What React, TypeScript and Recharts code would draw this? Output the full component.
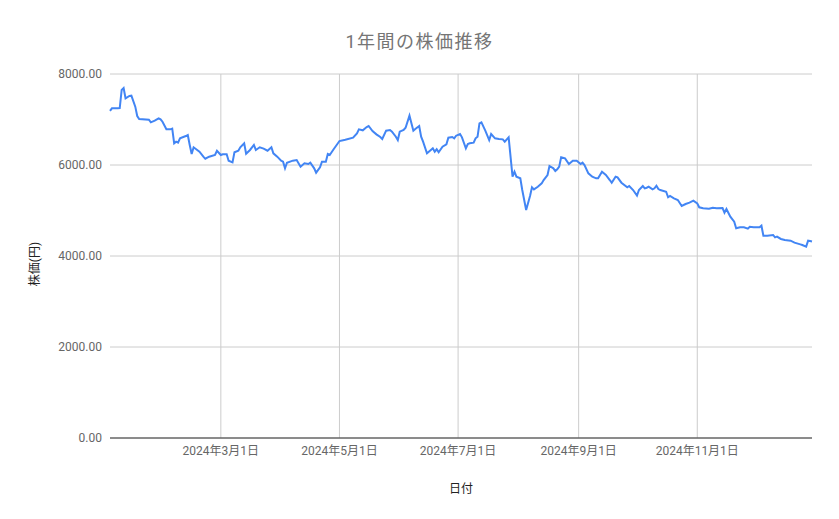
import React from "react";
import { LineChart, Line, XAxis, YAxis, CartesianGrid, ReferenceLine } from "recharts";

// closing prices
const tradeDates = [
  "2024-01-04", "2024-01-05", "2024-01-08", "2024-01-09", "2024-01-10", "2024-01-11", "2024-01-12",
  "2024-01-14", "2024-01-15", "2024-01-17", "2024-01-18", "2024-01-19", "2024-01-24", "2024-01-25",
  "2024-01-27", "2024-01-29", "2024-01-30", "2024-01-31", "2024-02-02", "2024-02-04", "2024-02-05",
  "2024-02-06", "2024-02-07", "2024-02-08", "2024-02-09", "2024-02-12", "2024-02-13", "2024-02-14",
  "2024-02-15", "2024-02-16", "2024-02-19", "2024-02-21", "2024-02-22", "2024-02-24", "2024-02-27",
  "2024-02-28", "2024-03-01", "2024-03-02", "2024-03-04", "2024-03-05", "2024-03-07", "2024-03-08",
  "2024-03-10", "2024-03-11", "2024-03-13", "2024-03-14", "2024-03-16", "2024-03-18", "2024-03-19",
  "2024-03-21", "2024-03-23", "2024-03-25", "2024-03-27", "2024-03-28", "2024-03-30", "2024-04-01",
  "2024-04-02", "2024-04-03", "2024-04-04", "2024-04-07", "2024-04-09", "2024-04-11", "2024-04-13",
  "2024-04-15", "2024-04-16", "2024-04-18", "2024-04-19", "2024-04-21", "2024-04-22", "2024-04-24",
  "2024-04-25", "2024-04-26", "2024-04-28", "2024-05-01", "2024-05-04", "2024-05-08", "2024-05-10",
  "2024-05-11", "2024-05-13", "2024-05-15", "2024-05-16", "2024-05-18", "2024-05-20", "2024-05-22",
  "2024-05-23", "2024-05-25", "2024-05-27", "2024-05-28", "2024-05-30", "2024-05-31", "2024-06-01",
  "2024-06-03", "2024-06-04", "2024-06-06", "2024-06-08", "2024-06-09", "2024-06-11", "2024-06-12",
  "2024-06-13", "2024-06-15", "2024-06-17", "2024-06-18", "2024-06-19", "2024-06-20", "2024-06-21",
  "2024-06-23", "2024-06-25", "2024-06-26", "2024-06-28", "2024-06-29", "2024-06-30", "2024-07-02",
  "2024-07-03", "2024-07-05", "2024-07-06", "2024-07-07", "2024-07-09", "2024-07-10", "2024-07-11",
  "2024-07-12", "2024-07-13", "2024-07-15", "2024-07-17", "2024-07-18", "2024-07-20", "2024-07-22",
  "2024-07-24", "2024-07-25", "2024-07-27", "2024-07-29", "2024-07-30", "2024-07-31", "2024-08-02",
  "2024-08-03", "2024-08-05", "2024-08-07", "2024-08-08", "2024-08-09", "2024-08-11", "2024-08-13",
  "2024-08-14", "2024-08-16", "2024-08-17", "2024-08-19", "2024-08-20", "2024-08-21", "2024-08-22",
  "2024-08-23", "2024-08-25", "2024-08-27", "2024-08-29", "2024-08-31", "2024-09-02", "2024-09-03",
  "2024-09-04", "2024-09-06", "2024-09-08", "2024-09-10", "2024-09-11", "2024-09-13", "2024-09-15",
  "2024-09-17", "2024-09-18", "2024-09-20", "2024-09-21", "2024-09-23", "2024-09-26", "2024-09-27",
  "2024-09-29", "2024-10-01", "2024-10-02", "2024-10-04", "2024-10-05", "2024-10-06", "2024-10-07",
  "2024-10-09", "2024-10-10", "2024-10-11", "2024-10-12", "2024-10-13", "2024-10-16", "2024-10-17",
  "2024-10-18", "2024-10-20", "2024-10-22", "2024-10-24", "2024-10-26", "2024-10-28", "2024-10-30",
  "2024-11-01", "2024-11-02", "2024-11-04", "2024-11-07", "2024-11-09", "2024-11-11", "2024-11-14",
  "2024-11-15", "2024-11-16", "2024-11-18", "2024-11-20", "2024-11-21", "2024-11-23", "2024-11-25",
  "2024-11-27", "2024-11-28", "2024-11-30", "2024-12-03", "2024-12-04", "2024-12-05", "2024-12-07",
  "2024-12-10", "2024-12-11", "2024-12-12", "2024-12-14", "2024-12-16", "2024-12-19", "2024-12-21",
  "2024-12-24", "2024-12-25", "2024-12-27", "2024-12-28", "2024-12-29", "2024-12-30",
];

const closePrices = [
  7190, 7245, 7245, 7250, 7648, 7690, 7466,
  7517, 7523, 7282, 7077, 7011, 6996, 6938,
  6974, 7026, 7004, 6952, 6784, 6784, 6800,
  6477, 6513, 6490, 6586, 6637, 6659, 6440,
  6242, 6389, 6293, 6183, 6139, 6183, 6220,
  6314, 6220, 6235, 6235, 6095, 6059, 6279,
  6314, 6389, 6477, 6249, 6330, 6440, 6330,
  6389, 6359, 6314, 6389, 6257, 6183, 6095,
  6073, 5927, 6051, 6095, 6110, 5963, 6037,
  6022, 6051, 5927, 5831, 5949, 6073, 6073,
  6242, 6220, 6345, 6527, 6556, 6600, 6696,
  6784, 6762, 6835, 6857, 6747, 6674, 6615,
  6571, 6754, 6769, 6732, 6622, 6549, 6732,
  6769, 6820, 7084, 6754, 6791, 6857, 6622,
  6513, 6257, 6330, 6367, 6293, 6345, 6279,
  6403, 6455, 6600, 6615, 6586, 6644, 6681,
  6608, 6367, 6462, 6477, 6490, 6586, 6622,
  6916, 6938, 6754, 6549, 6681, 6586, 6571,
  6564, 6513, 6608, 5743, 5853, 5743, 5707,
  5450, 5011, 5319, 5509, 5465, 5523, 5596,
  5670, 5780, 5978, 5927, 5868, 5905, 5963,
  6169, 6147, 6022, 6095, 6095, 6022, 6051,
  6000, 5817, 5743, 5707, 5707, 5853, 5780,
  5670, 5611, 5743, 5729, 5611, 5509, 5538,
  5450, 5326, 5450, 5538, 5487, 5501, 5523,
  5465, 5487, 5545, 5472, 5450, 5413, 5290,
  5319, 5268, 5231, 5099, 5143, 5172, 5216,
  5157, 5070, 5048, 5040, 5062, 5048, 5055,
  4952, 5033, 4864, 4754, 4608, 4630, 4630,
  4600, 4644, 4630, 4630, 4666, 4447, 4447,
  4462, 4410, 4425, 4374, 4352, 4337, 4293,
  4256, 4242, 4205, 4337, 4330, 4320,
];

const xTickDates = ["2024-03-01", "2024-05-01", "2024-07-01", "2024-09-01", "2024-11-01"];
const xTickLabels = ["2024年3月1日", "2024年5月1日", "2024年7月1日", "2024年9月1日", "2024年11月1日"];
const yTicks = [0, 2000, 4000, 6000, 8000];

const toTime = (s: string) => {
  const [y, m, d] = s.split("-").map(Number);
  return Date.UTC(y, m - 1, d);
};

const data = tradeDates.map((d, i) => ({ t: toTime(d), price: closePrices[i] }));
const xTicks = xTickDates.map(toTime);

const FONT = "Roboto, 'Noto Sans CJK JP', sans-serif";

export default function App() {
  return (
    <div
      style={{
        position: "absolute",
        left: 0,
        top: 0,
        width: 839,
        height: 519,
        background: "#fff",
        fontFamily: FONT,
      }}
    >
      <div
        style={{
          position: "absolute",
          left: 0,
          width: 839,
          top: 27,
          textAlign: "center",
          fontSize: 18,
          letterSpacing: 1.5,
          color: "#757575",
        }}
      >
        1年間の株価推移
      </div>
      <LineChart
        width={839}
        height={519}
        data={data}
        margin={{ top: 74, right: 27, bottom: 51, left: 0 }}
      >
        <CartesianGrid stroke="#cccccc" vertical={false} />
        {/* month gridlines, drawn at the tick dates only */}
        {xTicks.map((t) => (
          <ReferenceLine key={t} x={t} stroke="#cccccc" strokeWidth={1} />
        ))}
        <XAxis
          dataKey="t"
          type="number"
          scale="time"
          domain={["dataMin", "dataMax"]}
          ticks={xTicks}
          tickFormatter={(v: number) => xTickLabels[xTicks.indexOf(v)] ?? ""}
          height={30}
          axisLine={{ stroke: "#333333" }}
          tickLine={false}
          tick={{ fill: "#666666", fontSize: 12, fontFamily: FONT }}
          interval={0}
        />
        <YAxis
          type="number"
          domain={[0, 8000]}
          ticks={yTicks}
          width={110}
          axisLine={false}
          tickLine={false}
          tickFormatter={(v: number) => v.toFixed(2)}
          tick={{ fill: "#666666", fontSize: 12, fontFamily: FONT }}
        />
        <Line
          type="linear"
          dataKey="price"
          stroke="#4285f4"
          strokeWidth={2}
          dot={false}
          isAnimationActive={false}
        />
      </LineChart>
      <div
        style={{
          position: "absolute",
          left: 33,
          top: 264,
          transform: "translate(-50%, -50%) rotate(-90deg)",
          fontSize: 12,
          color: "#222222",
          whiteSpace: "nowrap",
        }}
      >
        株価(円)
      </div>
      <div
        style={{
          position: "absolute",
          left: 461,
          top: 487,
          transform: "translate(-50%, -50%)",
          fontSize: 12,
          color: "#222222",
          whiteSpace: "nowrap",
        }}
      >
        日付
      </div>
    </div>
  );
}
